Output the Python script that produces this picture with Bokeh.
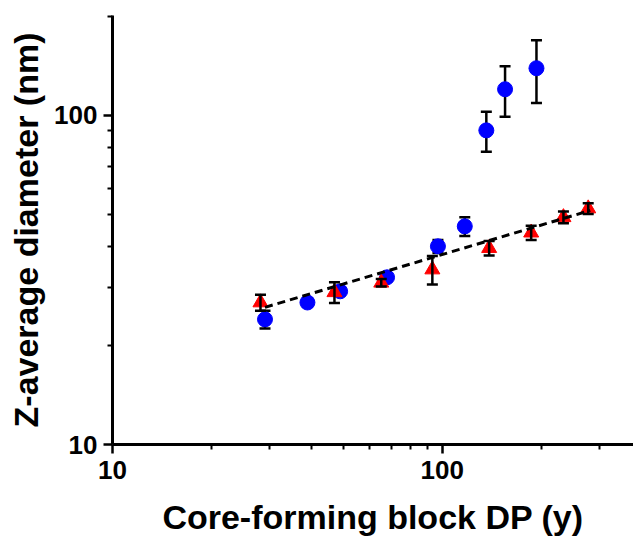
from bokeh.plotting import figure
from bokeh.models import Range1d, FixedTicker, PrintfTickFormatter, ColumnDataSource
from bokeh.embed import file_html
from bokeh.resources import INLINE

# ---- data ----
x_blue = [29, 39, 49, 68, 97, 117, 136, 155, 193]
y_blue = [24.0, 27.0, 29.2, 32.2, 40.0, 46.0, 90.0, 120.0, 139.0]
e_blue = [1.5, 0.8, 0.8, 0.8, 1.8, 3.0, 12.5, 21.0, 30.0]

x_red = [28.1, 47.1, 65.3, 93.3, 138.7, 186, 233, 277]
y_red = [27.0, 29.0, 31.0, 34.0, 39.5, 44.0, 49.0, 52.1]
e_red = [1.5, 2.1, 0.8, 3.4, 2.0, 2.2, 2.0, 2.0]

fit_x = [29, 281]
fit_y = [26.1, 51.4]

x_ticks = [10, 100]
x_minor = [20, 30, 40, 50, 60, 70, 80, 90, 200, 300]
y_ticks = [10, 100]
y_minor = [20, 30, 40, 50, 60, 70, 80, 90, 200]

FONT = "Liberation Sans"

p = figure(width=633, height=539, x_axis_type="log", y_axis_type="log",
           x_range=Range1d(10, 380), y_range=Range1d(10, 201),
           output_backend="svg", toolbar_location=None,
           min_border_left=112, min_border_right=0, min_border_top=15,
           min_border_bottom=95)
p.outline_line_color = None
p.xgrid.visible = False
p.ygrid.visible = False
p.background_fill_color = "white"
p.border_fill_color = "white"


def errsrc(xs, ys, es):
    return ColumnDataSource(dict(
        x=xs, y=ys,
        lo=[y - e for y, e in zip(ys, es)],
        hi=[y + e for y, e in zip(ys, es)],
    ))


sb = errsrc(x_blue, y_blue, e_blue)
sr = errsrc(x_red, y_red, e_red)

# blue error bars, then circles
p.segment(x0="x", y0="lo", x1="x", y1="hi", source=sb, line_color="black", line_width=2.5)
p.scatter(x="x", y="lo", source=sb, marker="dash", size=11, line_color="black", line_width=2.5)
p.scatter(x="x", y="hi", source=sb, marker="dash", size=11, line_color="black", line_width=2.5)
p.scatter(x="x", y="y", source=sb, marker="circle", size=15, fill_color="#0000ff", line_color="#0000ff")

# red triangles, then error bars on top
p.scatter(x="x", y="y", source=sr, marker="triangle", size=15, fill_color="#ff0000", line_color="#ff0000")
p.segment(x0="x", y0="lo", x1="x", y1="hi", source=sr, line_color="black", line_width=2.5)
p.scatter(x="x", y="lo", source=sr, marker="dash", size=11, line_color="black", line_width=2.5)
p.scatter(x="x", y="hi", source=sr, marker="dash", size=11, line_color="black", line_width=2.5)

# power-law fit
p.line(fit_x, fit_y, line_color="black", line_width=3, line_dash="8 5")

for ax, ticks, minor in ((p.xaxis[0], x_ticks, x_minor), (p.yaxis[0], y_ticks, y_minor)):
    ax.ticker = FixedTicker(ticks=ticks, minor_ticks=minor)
    ax.formatter = PrintfTickFormatter(format="%d")
    ax.axis_line_width = 3
    ax.axis_line_color = "black"
    ax.major_tick_line_width = 2.5
    ax.major_tick_line_color = "black"
    ax.minor_tick_line_width = 2
    ax.minor_tick_line_color = "black"
    ax.major_tick_out = 9
    ax.major_tick_in = 0
    ax.minor_tick_out = 5
    ax.minor_tick_in = 0
    ax.major_label_text_font = FONT
    ax.major_label_text_font_style = "bold"
    ax.major_label_text_font_size = "26px"
    ax.major_label_text_color = "black"
    ax.axis_label_text_font = FONT
    ax.axis_label_text_font_style = "bold"
    ax.axis_label_text_font_size = "34px"
    ax.axis_label_text_color = "black"

p.xaxis.axis_label = "Core-forming block DP (y)"
p.yaxis.axis_label = "Z-average diameter (nm)"
p.xaxis.major_label_standoff = 7
p.xaxis.axis_label_standoff = 16
p.yaxis.major_label_standoff = 6
p.yaxis.axis_label_standoff = 6

open("out.html", "w").write(file_html(p, INLINE))
